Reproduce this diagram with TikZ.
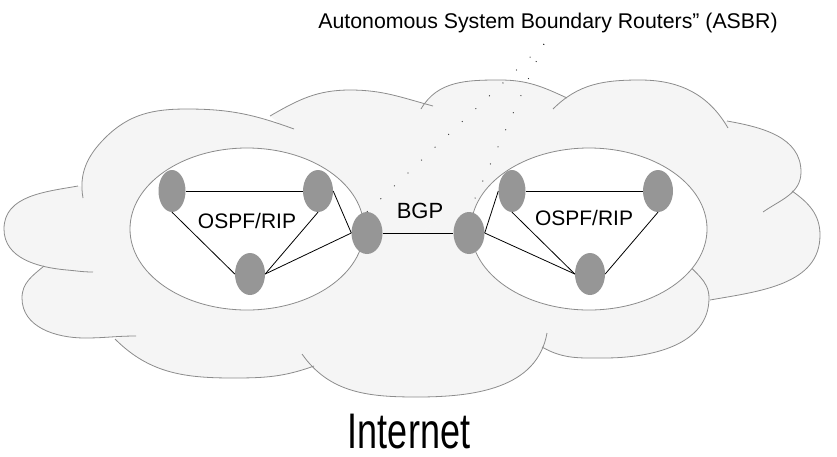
\documentclass[tikz,border=0pt]{standalone}
\usepackage{fontspec}
\setmainfont{Liberation Sans}
\usetikzlibrary{shapes.geometric}

\definecolor{cloudgray}{RGB}{245,245,245}
\definecolor{edgegray}{RGB}{140,140,140}
\definecolor{routergray}{RGB}{150,150,150}

\begin{document}
\begin{tikzpicture}[x=1pt,y=-1pt]
        % Define styles
        \tikzset{
            cloudfill/.style={fill=cloudgray},
            cloudline/.style={draw=edgegray, line width=0.8pt},
            asarea/.style={ellipse, draw=edgegray, fill=white, line width=0.8pt, inner sep=0pt},
            router/.style={ellipse, fill=routergray, minimum width=30pt, minimum height=42pt, inner sep=0pt},
            link/.style={draw=black, line width=0.8pt},
            asbrdots/.style={draw=black!80, line width=0.9pt, dash pattern=on 0.9pt off 17.8pt},
            txt/.style={anchor=base, inner sep=0pt, font=\fontsize{21}{25}\selectfont}
        }
        \useasboundingbox (0,0) rectangle (837,456);

        % Cloud lobes (y axis points down, so the angles are mirrored)
        \def\lobeA{(78,186) to[out=-170,in=-270] (4,229) to[out=-90,in=-185] (67,270) to[out=-5,in=-180] (93,272)}
        \def\lobeB{(83,198) to[out=-260,in=-135] (105,138) to[out=-315,in=-180] (187,109) to[out=0,in=-200] (294,129)}
        \def\lobeC{(270,116) to[out=-330,in=-180] (350,90) to[out=0,in=-195] (433,106)}
        \def\lobeD{(421,109) to[out=-300,in=-180] (500,80) to[out=0,in=-205] (567,98)}
        \def\lobeE{(553,109) to[out=-315,in=-180] (640,80) to[out=0,in=-240] (728,128)}
        \def\lobeF{(727,121) to[out=-10,in=-270] (801,172) to[out=-90,in=-325] (763,212)}
        \def\lobeG{(792,191) to[out=-35,in=-270] (820,235) to[out=-90,in=-350] (710,300)}
        \def\lobeH{(683,258) to[out=-55,in=-270] (709,298) to[out=-90,in=0] (604,358) to[out=-180,in=-30] (542,347)}
        \def\lobeI{(547,333) to[out=-100,in=0] (417,397) to[out=-180,in=-55] (302,354)}
        \def\lobeJ{(314,366) to[out=-160,in=0] (233,378) to[out=-180,in=-45] (115,339)}
        \def\lobeK{(136,336) to[out=-180,in=0] (85,338) to[out=-180,in=-90] (22,298) to[out=-270,in=-140] (44,266)}

        % fill each lobe as a fan from the middle, then draw the outlines
        \coordinate (cloud_center) at (420,235);
        \foreach \lobe in {\lobeA,\lobeB,\lobeC,\lobeD,\lobeE,\lobeF,\lobeG,\lobeH,\lobeI,\lobeJ,\lobeK}
            \fill[cloudfill] \lobe -- (cloud_center) -- cycle;
        \foreach \lobe in {\lobeA,\lobeB,\lobeC,\lobeD,\lobeE,\lobeF,\lobeG,\lobeH,\lobeI,\lobeJ,\lobeK}
            \draw[cloudline] \lobe;

        % Autonomous systems
        \node[asarea, minimum width=234pt, minimum height=162pt] (as_left) at (247,229) {};
        \node[asarea, minimum width=236pt, minimum height=162pt] (as_right) at (589,229) {};

        % Routers
        \node[router, minimum width=27pt] (router_l1) at (172,191) {};
        \node[router] (router_l2) at (318,191) {};
        \node[router] (router_l3) at (250,274) {};
        \node[router, minimum width=31pt] (asbr_l) at (367,233) {};
        \node[router, minimum width=31pt] (asbr_r) at (469,233) {};
        \node[router, minimum width=27pt] (router_r1) at (512,191) {};
        \node[router] (router_r2) at (658,191) {};
        \node[router] (router_r3) at (590,274) {};

        % Links
        \draw[link] (router_l1.east) -- (router_l2.west);
        \draw[link] (router_l1.south) -- (router_l3.west);
        \draw[link] (router_l2.south) -- (router_l3.east);
        \draw[link] (router_l2.east) -- (asbr_l.west);
        \draw[link] (router_l3.east) -- (asbr_l.west);
        \draw[link] (asbr_l.east) -- (asbr_r.west);
        \draw[link] (asbr_r.east) -- (router_r1.west);
        \draw[link] (asbr_r.east) -- (router_r3.west);
        \draw[link] (router_r1.east) -- (router_r2.west);
        \draw[link] (router_r1.south) -- (router_r3.west);
        \draw[link] (router_r2.south) -- (router_r3.east);

        % Labels
        \node[txt, font=\fontsize{21.3}{25}\selectfont] (asbr_label) at (548,28) {Autonomous System Boundary Routers” (ASBR)};
        \coordinate (asbr_tip) at (544,44);
        \draw[asbrdots] (asbr_tip) -- (asbr_l.north);
        \draw[asbrdots] (asbr_tip) -- (asbr_r.north);
        \node[txt] (ospf_l) at (247,228) {OSPF/RIP};
        \node[txt] (ospf_r) at (584,225) {OSPF/RIP};
        \node[txt, font=\fontsize{22}{26}\selectfont] (bgp) at (420,218) {BGP};
        \node[txt, font=\fontsize{50}{60}\selectfont] (internet) at (409,448) {\scalebox{0.72}[1]{Internet}};
\end{tikzpicture}
\end{document}
